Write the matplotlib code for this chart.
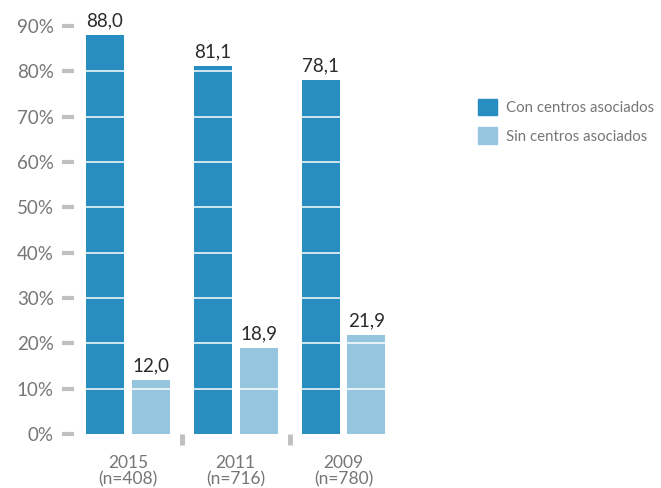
import matplotlib
matplotlib.use("Agg")
import matplotlib.pyplot as plt
from matplotlib.patches import Patch
import numpy as np

plt.rcParams["font.family"] = ["Lato", "DejaVu Sans"]

years = ["2015\n(n=408)", "2011\n(n=716)", "2009\n(n=780)"]
con_centros = [88.0, 81.1, 78.1]
sin_centros = [12.0, 18.9, 21.9]
series_names = ["Con centros asociados", "Sin centros asociados"]
yticks = list(range(0, 100, 10))

DARK = "#288dc1"
LIGHT = "#95c5df"
GREY_TICK = "#c0c0c0"
GREY_TEXT = "#767676"

fig = plt.figure(figsize=(6.61, 4.88), dpi=100)
# axes placed in pixel terms: left 74px, bottom 434px from top
ax = fig.add_axes([74 / 661, 54 / 488, (392 - 74) / 661, 95 * 4.533 / 488])

x = np.arange(len(years))
w = 0.352
off = 0.213
b1 = ax.bar(x - off, con_centros, w, color=DARK, zorder=2)
b2 = ax.bar(x + off, sin_centros, w, color=LIGHT, zorder=2)

# white horizontal lines cutting the bars every 10%
for t in yticks[1:]:
    ax.axhline(t, color="white", linewidth=1.3, alpha=0.85, zorder=3)

for bars, vals in ((b1, con_centros), (b2, sin_centros)):
    for r, v in zip(bars, vals):
        ax.annotate(f"{v:.1f}".replace(".", ","),
                    (r.get_x() + r.get_width() / 2, v),
                    xytext=(0, 4), textcoords="offset points",
                    ha="center", va="bottom", fontsize=13.5, color="#2a2a2a",
                    clip_on=False)

ax.set_xlim(-0.5, 2.45)
ax.set_ylim(0, 95)
for s in ax.spines.values():
    s.set_visible(False)

ax.set_yticks(yticks)
ax.set_yticklabels([f"{t}%" for t in yticks])
ax.tick_params(axis="y", direction="out", length=8.6, width=3.0,
               color=GREY_TICK, labelcolor=GREY_TEXT, labelsize=13.5, pad=6)

# separator marks between groups as major x ticks, labels as minor ticks
ax.set_xticks([0.5, 1.5])
ax.set_xticklabels(["", ""])
ax.tick_params(axis="x", which="major", direction="out", length=8,
               width=3.6, color=GREY_TICK)
ax.set_xticks(x, minor=True)
ax.set_xticklabels(years, minor=True)
ax.tick_params(axis="x", which="minor", length=0, pad=15,
               labelcolor=GREY_TEXT, labelsize=12.5)
for lbl in ax.get_xticklabels(minor=True):
    lbl.set_linespacing(1.05)

handles = [Patch(color=DARK), Patch(color=LIGHT)]
fig.legend(handles, series_names, loc="upper left",
           bbox_to_anchor=(464 / 661, 1 - 85 / 488), frameon=False,
           prop={"size": 10.8}, labelcolor=GREY_TEXT,
           handlelength=1.28, handleheight=1.28, handletextpad=0.65,
           labelspacing=0.85)

fig.savefig("out.png", dpi=100)
